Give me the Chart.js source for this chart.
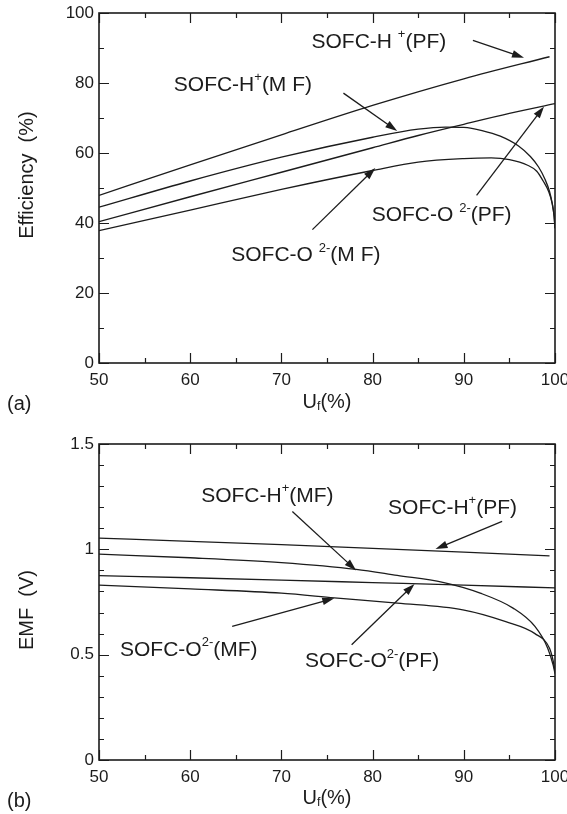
<!DOCTYPE html>
<html>
<head>
<meta charset="utf-8">
<script src="https://cdn.jsdelivr.net/npm/chart.js@4.4.0/dist/chart.umd.min.js"></script>
<style>
    body { margin: 0; background: #fff; }
    #wrap { position: relative; width: 567px; height: 814px; }
    canvas { position: absolute; left: 0; }
</style>
</head>
<body>
<div id="wrap">
    <canvas id="effChart" width="567" height="420" style="top:0"></canvas>
    <canvas id="emfChart" width="567" height="394" style="top:420px"></canvas>
</div>
<script>
// (a) efficiency vs fuel utilisation
const effHpfUf = [50, 60, 70, 80, 90, 99.4];
const effHpf = [47.9, 56.6, 65.2, 73.6, 81.2, 87.5];
const effHmfUf = [50, 60, 70, 80, 85, 88, 90, 92, 94, 96, 97.3, 98.2, 98.9, 99.4, 99.7, 99.9, 100];
const effHmf = [44.5, 52.0, 58.8, 64.5, 66.8, 67.4, 67.3, 66.4, 64.8, 62.0, 59.0, 56.0, 52.5, 49.0, 45.5, 42.0, 38.5];
const effOpfUf = [50, 60, 70, 80, 85, 90, 95, 100];
const effOpf = [40.4, 47.5, 54.5, 61.5, 65.0, 68.2, 71.3, 74.1];
const effOmfUf = [50, 60, 70, 80, 85, 90, 93, 95, 97, 98, 98.7, 99.3, 99.7, 99.9, 100];
const effOmf = [37.8, 43.7, 49.6, 55.0, 57.4, 58.4, 58.6, 58.1, 56.5, 54.8, 52.0, 49.0, 45.5, 42.0, 38.5];

// (b) EMF vs fuel utilisation
const emfHpfUf = [50, 60, 70, 80, 90, 99.4];
const emfHpf = [1.053, 1.038, 1.022, 1.005, 0.987, 0.969];
const emfHmfUf = [50, 60, 70, 78.2, 82.7, 87.7, 91.8, 95.4, 97.8, 99.2, 99.8, 100];
const emfHmf = [0.977, 0.960, 0.937, 0.905, 0.876, 0.843, 0.792, 0.721, 0.634, 0.531, 0.45, 0.41];
const emfOpfUf = [50, 60, 70, 80, 90, 100];
const emfOpf = [0.875, 0.865, 0.854, 0.842, 0.830, 0.817];
const emfOmfUf = [50, 60, 70, 75.8, 82.7, 89.9, 94.6, 97.8, 99.4, 99.8, 100];
const emfOmf = [0.830, 0.812, 0.792, 0.770, 0.745, 0.713, 0.657, 0.600, 0.530, 0.47, 0.42];

const xTicks = [50, 60, 70, 80, 90, 100];
const effTicks = [0, 20, 40, 60, 80, 100];
const emfTicks = [0, 0.5, 1, 1.5];

const FONT = "'Liberation Sans', Arial, Helvetica, sans-serif";
const INK = '#1c1c1c';

Chart.defaults.font.family = FONT;
Chart.defaults.color = INK;

const toXY = (xs, ys) => xs.map((x, i) => ({ x: x, y: ys[i] }));

const lineSet = (xs, ys) => ({
    data: toXY(xs, ys),
    showLine: true,
    borderColor: INK,
    borderWidth: 1.3,
    pointRadius: 0,
    fill: false,
    cubicInterpolationMode: 'monotone',
});

// text with ^sup^ and _sub_ parts
const drawRich = (ctx, str, x, y, size) => {
    const parts = str.split(/(\^[^^]*\^|_[^_]*_)/).filter((p) => p.length);
    let cx = x;
    parts.forEach((p) => {
        let s = size, dy = 0, t = p;
        if (p[0] === '^') { t = p.slice(1, -1); s = size * 0.62; dy = -size * 0.36; }
        if (p[0] === '_') { t = p.slice(1, -1); s = size * 0.62; dy = size * 0.22; }
        ctx.font = `${s}px ${FONT}`;
        ctx.fillText(t, cx, y + dy);
        cx += ctx.measureText(t).width;
    });
};

const richWidth = (ctx, str, size) => {
    const parts = str.split(/(\^[^^]*\^|_[^_]*_)/).filter((p) => p.length);
    let w = 0;
    parts.forEach((p) => {
        let s = size, t = p;
        if (p[0] === '^' || p[0] === '_') { t = p.slice(1, -1); s = size * 0.62; }
        ctx.font = `${s}px ${FONT}`;
        w += ctx.measureText(t).width;
    });
    return w;
};

const makeDecor = (cfg) => ({
    id: 'decor',
    afterDraw(chart) {
        const { ctx, chartArea: a, scales: { x, y } } = chart;
        ctx.save();
        ctx.strokeStyle = INK;
        ctx.fillStyle = INK;

        // inward ticks on all four sides
        ctx.lineWidth = 1.2;
        ctx.beginPath();
        const nx = Math.round((x.max - x.min) / cfg.xMinor);
        for (let i = 0; i <= nx; i++) {
            const v = x.min + i * cfg.xMinor;
            const major = Math.abs(v / cfg.xMajor - Math.round(v / cfg.xMajor)) < 1e-6;
            const len = major ? 10 : 5;
            const px = Math.round(x.getPixelForValue(v)) + 0.5;
            ctx.moveTo(px, a.bottom); ctx.lineTo(px, a.bottom - len);
            ctx.moveTo(px, a.top); ctx.lineTo(px, a.top + len);
        }
        const ny = Math.round((y.max - y.min) / cfg.yMinor);
        for (let i = 0; i <= ny; i++) {
            const v = y.min + i * cfg.yMinor;
            const major = Math.abs(v / cfg.yMajor - Math.round(v / cfg.yMajor)) < 1e-6;
            const len = major ? 10 : 5;
            const py = Math.round(y.getPixelForValue(v)) + 0.5;
            ctx.moveTo(a.left, py); ctx.lineTo(a.left + len, py);
            ctx.moveTo(a.right, py); ctx.lineTo(a.right - len, py);
        }
        ctx.stroke();

        // frame
        ctx.lineWidth = 1.6;
        ctx.strokeRect(a.left, a.top, a.right - a.left, a.bottom - a.top);

        // curve labels and arrows
        ctx.textBaseline = 'middle';
        ctx.textAlign = 'left';
        cfg.notes.forEach((n) => {
            drawRich(ctx, n.text, x.getPixelForValue(n.tx), y.getPixelForValue(n.ty), 21);
            const x1 = x.getPixelForValue(n.from[0]), y1 = y.getPixelForValue(n.from[1]);
            const x2 = x.getPixelForValue(n.to[0]), y2 = y.getPixelForValue(n.to[1]);
            const ang = Math.atan2(y2 - y1, x2 - x1);
            const hl = 12, hw = 3.8;
            ctx.lineWidth = 1.3;
            ctx.beginPath();
            ctx.moveTo(x1, y1);
            ctx.lineTo(x2 - Math.cos(ang) * hl * 0.8, y2 - Math.sin(ang) * hl * 0.8);
            ctx.stroke();
            ctx.beginPath();
            ctx.moveTo(x2, y2);
            ctx.lineTo(x2 - Math.cos(ang) * hl - Math.sin(ang) * hw, y2 - Math.sin(ang) * hl + Math.cos(ang) * hw);
            ctx.lineTo(x2 - Math.cos(ang) * hl + Math.sin(ang) * hw, y2 - Math.sin(ang) * hl - Math.cos(ang) * hw);
            ctx.closePath();
            ctx.fill();
        });

        // axis titles and panel letter
        const xt = 'U_f_(%)';
        drawRich(ctx, xt, cfg.xTitle[0] - richWidth(ctx, xt, 20) / 2, cfg.xTitle[1], 20);
        drawRich(ctx, cfg.panel, 7, cfg.panelY, 20);

        ctx.translate(27, cfg.yTitleY);
        ctx.rotate(-Math.PI / 2);
        ctx.font = `20px ${FONT}`;
        ctx.textAlign = 'center';
        ctx.fillText(cfg.yTitle, 0, 0);
        ctx.restore();
    },
});

const makeOptions = (yMin, yMax, yTicks, padTop, xHeight) => ({
    responsive: false,
    animation: false,
    layout: { padding: { left: 0, right: 12, top: padTop, bottom: 0 } },
    plugins: { legend: { display: false }, tooltip: { enabled: false } },
    scales: {
        x: {
            type: 'linear',
            min: 50,
            max: 100,
            afterBuildTicks: (s) => { s.ticks = xTicks.map((v) => ({ value: v })); },
            afterFit: (s) => { s.height = xHeight; s.paddingLeft = 0; s.paddingRight = 0; },
            grid: { display: false, drawTicks: false },
            border: { display: false },
            ticks: { padding: 7, font: { size: 17 }, color: INK, maxRotation: 0, callback: (v) => String(v) },
        },
        y: {
            type: 'linear',
            min: yMin,
            max: yMax,
            afterBuildTicks: (s) => { s.ticks = yTicks.map((v) => ({ value: v })); },
            afterFit: (s) => { s.width = 99; s.paddingTop = 0; s.paddingBottom = 0; },
            grid: { display: false, drawTicks: false },
            border: { display: false },
            ticks: { padding: 5, font: { size: 17 }, color: INK, callback: (v) => String(v) },
        },
    },
});

new Chart(document.getElementById('effChart'), {
    type: 'scatter',
    data: {
        datasets: [
            lineSet(effHpfUf, effHpf),
            lineSet(effHmfUf, effHmf),
            lineSet(effOpfUf, effOpf),
            lineSet(effOmfUf, effOmf),
        ],
    },
    options: makeOptions(0, 100, effTicks, 13, 57),
    plugins: [makeDecor({
        xMajor: 10, xMinor: 5, yMajor: 20, yMinor: 10,
        xTitle: [327, 402], panel: '(a)', panelY: 404,
        yTitle: 'Efficiency  (%)', yTitleY: 175,
        notes: [
            { text: 'SOFC-H ^+^(PF)', tx: 73.3, ty: 91.7, from: [91.0, 92.2], to: [96.6, 87.2] },
            { text: 'SOFC-H^+^(M F)', tx: 58.2, ty: 79.3, from: [76.8, 77.1], to: [82.7, 66.3] },
            { text: 'SOFC-O ^2-^(PF)', tx: 79.9, ty: 42.1, from: [91.4, 47.9], to: [98.8, 73.3] },
            { text: 'SOFC-O ^2-^(M F)', tx: 64.5, ty: 30.7, from: [73.4, 38.1], to: [80.3, 55.7] },
        ],
    })],
});

new Chart(document.getElementById('emfChart'), {
    type: 'scatter',
    data: {
        datasets: [
            lineSet(emfHpfUf, emfHpf),
            lineSet(emfHmfUf, emfHmf),
            lineSet(emfOpfUf, emfOpf),
            lineSet(emfOmfUf, emfOmf),
        ],
    },
    options: makeOptions(0, 1.5, emfTicks, 24, 54),
    plugins: [makeDecor({
        xMajor: 10, xMinor: 5, yMajor: 0.5, yMinor: 0.1,
        xTitle: [327, 378], panel: '(b)', panelY: 381,
        yTitle: 'EMF  (V)', yTitleY: 190,
        notes: [
            { text: 'SOFC-H^+^(MF)', tx: 61.2, ty: 1.251, from: [71.2, 1.180], to: [78.2, 0.900] },
            { text: 'SOFC-H^+^(PF)', tx: 81.7, ty: 1.196, from: [94.2, 1.133], to: [86.9, 1.001] },
            { text: 'SOFC-O^2-^(MF)', tx: 52.3, ty: 0.523, from: [64.6, 0.634], to: [75.8, 0.768] },
            { text: 'SOFC-O^2-^(PF)', tx: 72.6, ty: 0.467, from: [77.7, 0.547], to: [84.6, 0.836] },
        ],
    })],
});
</script>
</body>
</html>
